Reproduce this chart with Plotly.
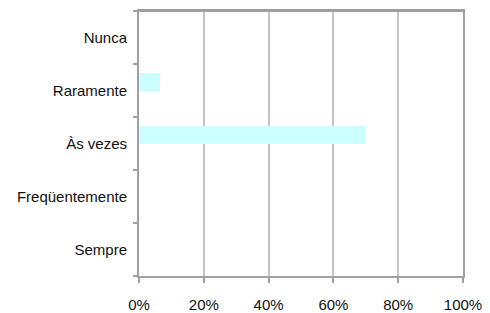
import plotly.graph_objects as go

categories = ["Nunca", "Raramente", "Às vezes", "Freqüentemente", "Sempre"]
values = [0.0, 0.065, 0.70, 0.0, 0.0]
x_ticks = [0, 0.2, 0.4, 0.6, 0.8, 1.0]
x_labels = ["0%", "20%", "40%", "60%", "80%", "100%"]

fig = go.Figure(go.Bar(
    y=categories, x=values, orientation="h",
    marker=dict(color="#ccffff", line=dict(width=0)),
    width=0.34, offset=-0.01,
))

fig.update_layout(
    width=490, height=313,
    margin=dict(l=139, r=27, t=11, b=37, autoexpand=False),
    paper_bgcolor="white", plot_bgcolor="white",
    font=dict(family="Liberation Sans, Arial, sans-serif", size=15, color="#111"),
    showlegend=False,
    shapes=[dict(type="line", xref="paper", yref="paper", x0=0, x1=1, y0=1, y1=1,
                 line=dict(color="#a0a0a0", width=2), layer="above")],
)
fig.update_xaxes(
    range=[0, 1], tickvals=x_ticks, ticktext=x_labels,
    showgrid=True, gridcolor="#c4c4c4", gridwidth=1.5,
    showline=True, linecolor="#a0a0a0", linewidth=2, mirror=True,
    ticks="outside", ticklen=5, tickcolor="#a0a0a0", tickwidth=1.5,
    ticklabelstandoff=9, zeroline=False, automargin=False,
)
fig.update_yaxes(
    categoryorder="array", categoryarray=categories[::-1],
    range=[-0.5, 4.5],
    showgrid=False,
    showline=True, linecolor="#a0a0a0", linewidth=2, mirror=True,
    ticks="outside", ticklen=4, tickcolor="#a0a0a0", tickwidth=1.5,
    tickson="boundaries", ticklabelstandoff=7, automargin=False,
)

fig.write_html("out.html", config={"displayModeBar": False},
               post_script="document.body.style.margin='0';")
